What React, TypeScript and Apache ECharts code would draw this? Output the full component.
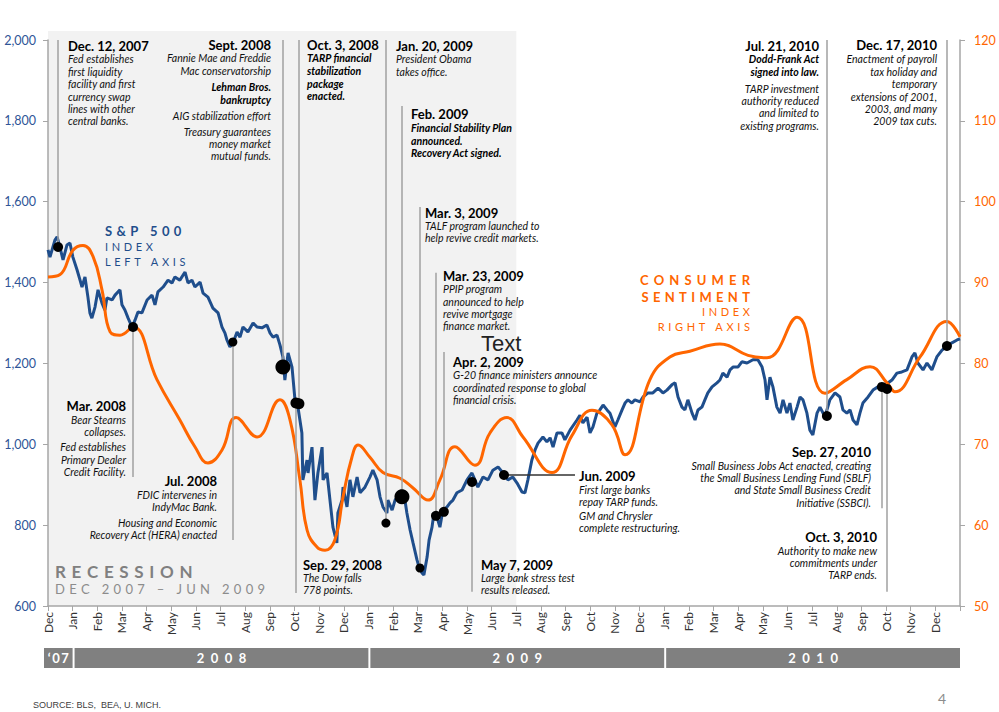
import React, { useEffect, useRef } from 'react';
import * as echarts from 'echarts';

// ---------- DATA ----------
// x = months since 1 Dec 2007 (0 = Dec 2007, 37 = Jan 2011)
const monthLabels = [
  'Dec', 'Jan', 'Feb', 'Mar', 'Apr', 'May', 'Jun', 'Jul', 'Aug', 'Sep', 'Oct', 'Nov', 'Dec',
  'Jan', 'Feb', 'Mar', 'Apr', 'May', 'Jun', 'Jul', 'Aug', 'Sep', 'Oct', 'Nov', 'Dec',
  'Jan', 'Feb', 'Mar', 'Apr', 'May', 'Jun', 'Jul', 'Aug', 'Sep', 'Oct', 'Nov', 'Dec',
];
const yearLabels = ['‘07', '2008', '2009', '2010'];
const yearStarts = [-0.16, 1.08, 13.08, 25.08];
const yearEnds = [1.0, 13.0, 25.0, 37.0];
const recessionStart = 0;
const recessionEnd = 19;

// S&P 500 index (left axis)
const spData: [number, number][] = [
  [0, 1481], [0.08, 1463], [0.28, 1505], [0.37, 1513], [0.49, 1486], [0.61, 1456], [0.77, 1493], [0.89, 1498],
  [1.01, 1463], [1.18, 1431], [1.3, 1406], [1.38, 1389], [1.5, 1414], [1.62, 1364], [1.7, 1325], [1.78, 1312],
  [1.91, 1340], [2.03, 1382], [2.19, 1349], [2.31, 1332], [2.39, 1362], [2.6, 1357], [2.72, 1369], [2.92, 1382],
  [3.0, 1345], [3.12, 1332], [3.25, 1312], [3.41, 1290], [3.53, 1307], [3.65, 1327], [3.81, 1325], [4.02, 1357],
  [4.22, 1369], [4.34, 1345], [4.46, 1377], [4.67, 1389], [4.87, 1406], [5.03, 1399], [5.15, 1414], [5.35, 1406],
  [5.56, 1426], [5.68, 1399], [5.84, 1406], [5.96, 1389], [6.17, 1401], [6.29, 1374], [6.49, 1364], [6.69, 1337],
  [6.9, 1325], [7.06, 1290], [7.18, 1275], [7.26, 1258], [7.38, 1241], [7.51, 1251], [7.67, 1278], [7.79, 1265],
  [7.91, 1290], [8.11, 1278], [8.32, 1300], [8.48, 1290], [8.68, 1288], [8.88, 1295], [9.01, 1275], [9.13, 1265],
  [9.29, 1270], [9.41, 1246], [9.53, 1216], [9.61, 1159], [9.74, 1226], [9.9, 1191], [10.02, 1110], [10.14, 1092],
  [10.3, 1028], [10.34, 912], [10.51, 961], [10.55, 929], [10.71, 993], [10.83, 862], [10.95, 929], [11.12, 993],
  [11.16, 912], [11.32, 929], [11.44, 862], [11.56, 795], [11.72, 756], [11.76, 830], [11.93, 862], [11.97, 894],
  [12.13, 845], [12.25, 912], [12.37, 870], [12.54, 919], [12.66, 880], [12.86, 894], [13.06, 919], [13.18, 936],
  [13.35, 912], [13.47, 870], [13.59, 845], [13.75, 830], [13.79, 862], [13.96, 837], [14.08, 862], [14.2, 870],
  [14.36, 887], [14.48, 862], [14.56, 830], [14.69, 788], [14.81, 756], [14.97, 714], [15.05, 697], [15.17, 682],
  [15.25, 677], [15.38, 721], [15.46, 763], [15.58, 795], [15.66, 830], [15.78, 820], [15.9, 795], [16.02, 837],
  [16.19, 845], [16.31, 855], [16.43, 862], [16.59, 880], [16.8, 887], [17.0, 912], [17.2, 929], [17.32, 912],
  [17.44, 894], [17.65, 919], [17.85, 912], [18.05, 936], [18.26, 944], [18.46, 929], [18.66, 912], [18.86, 919],
  [19.03, 904], [19.23, 882], [19.35, 880], [19.47, 912], [19.63, 961], [19.76, 986], [19.88, 1003], [20.08, 1018],
  [20.24, 1006], [20.37, 1016], [20.49, 993], [20.65, 1028], [20.85, 1028], [20.97, 1011], [21.18, 1035], [21.46, 1060],
  [21.58, 1072], [21.7, 1053], [21.87, 1067], [21.99, 1028], [22.11, 1043], [22.27, 1077], [22.39, 1085], [22.52, 1097],
  [22.68, 1085], [22.8, 1077], [23.0, 1043], [23.12, 1060], [23.29, 1085], [23.41, 1102], [23.53, 1110], [23.69, 1102],
  [23.81, 1110], [24.02, 1105], [24.14, 1117], [24.34, 1127], [24.54, 1127], [24.75, 1139], [24.95, 1127], [25.11, 1134],
  [25.31, 1147], [25.44, 1152], [25.56, 1117], [25.72, 1092], [25.84, 1085], [25.96, 1110], [26.13, 1077], [26.25, 1060],
  [26.37, 1085], [26.53, 1092], [26.65, 1110], [26.77, 1127], [26.94, 1142], [27.14, 1152], [27.26, 1159], [27.38, 1176],
  [27.55, 1166], [27.67, 1184], [27.79, 1191], [27.99, 1191], [28.15, 1204], [28.36, 1201], [28.6, 1209], [28.8, 1209],
  [28.97, 1191], [29.09, 1159], [29.17, 1110], [29.29, 1166], [29.41, 1142], [29.57, 1092], [29.7, 1077], [29.82, 1110],
  [29.98, 1077], [30.1, 1102], [30.22, 1060], [30.39, 1092], [30.51, 1117], [30.63, 1110], [30.79, 1077], [30.91, 1035],
  [31.03, 1023], [31.2, 1077], [31.32, 1092], [31.52, 1068], [31.72, 1110], [31.93, 1127], [32.13, 1117], [32.25, 1085],
  [32.41, 1077], [32.54, 1085], [32.66, 1060], [32.82, 1048], [32.94, 1077], [33.06, 1102], [33.27, 1117], [33.47, 1134],
  [33.67, 1142], [33.91, 1144], [34.24, 1159], [34.44, 1176], [34.64, 1179], [34.85, 1184], [35.05, 1216], [35.17, 1226],
  [35.29, 1201], [35.5, 1184], [35.66, 1201], [35.86, 1184], [36.06, 1216], [36.27, 1233], [36.47, 1243], [36.67, 1251],
  [36.88, 1258], [37.0, 1261],
];

// Consumer sentiment index (right axis)
const sentimentData: [number, number][] = [
  [0, 90.7], [0.49, 91.0], [1.01, 94.0], [1.42, 94.6], [1.83, 93.2], [2.19, 89.1], [2.52, 83.9], [2.92, 83.5],
  [3.45, 84.5], [4.42, 78.0], [5.35, 73.0], [5.96, 69.7], [6.49, 67.7], [7.06, 69.3], [7.63, 73.3], [8.48, 70.9],
  [9.41, 75.5], [9.82, 73.0], [10.22, 65.6], [10.51, 59.4], [10.91, 57.3], [11.24, 56.9], [11.64, 58.2], [11.97, 63.5],
  [12.33, 68.4], [12.58, 69.9], [13.06, 68.4], [13.59, 66.5], [14.28, 65.8], [14.81, 64.6], [15.42, 63.1], [15.9, 65.6],
  [16.51, 69.7], [17.32, 67.4], [17.93, 71.4], [18.62, 73.3], [19.27, 70.9], [20.45, 66.5], [21.26, 71.1], [22.07, 74.2],
  [22.88, 72.4], [23.41, 68.7], [24.42, 78.0], [25.23, 80.8], [26.04, 81.5], [27.26, 82.4], [28.4, 81.0], [29.17, 80.7],
  [30.39, 85.7], [31.52, 76.3], [32.41, 78.0], [33.35, 79.6], [34.04, 77.6], [34.36, 76.5], [35.38, 80.8], [36.47, 85.2],
  [37.0, 83.3],
];

// Event points on the S&P line
const eventDots: [number, number][] = [
  [0.41, 1488], [3.45, 1290], [7.5, 1253], [9.53, 1191], [10.06, 1102], [10.18, 1100], [13.71, 805], [14.36, 870],
  [15.09, 694], [15.74, 823], [16.06, 833], [17.2, 907], [18.5, 924], [31.6, 1070], [33.83, 1142], [34.04, 1137],
  [36.47, 1243],
];
// Leader lines: [month, from value, to value]
const eventLines: [number, number, number][] = [
  [0.41, 2000, 1488], [3.45, 1290, 919], [7.5, 1253, 763], [9.53, 2000, 1191], [10.06, 1102, 632], [10.18, 2000, 1100],
  [13.71, 2000, 805], [14.36, 1837, 870], [15.09, 1587, 694], [15.74, 1424, 823], [16.06, 1228, 833], [17.2, 907, 635],
  [31.6, 2000, 1070], [33.83, 1142, 842], [34.04, 1137, 635], [36.47, 2000, 1243],
];
const junLine: [number, number, number] = [18.5, 21.38, 924];

// ---------- STYLE / LAYOUT ----------
const FONT = 'Lato, "Noto Sans", sans-serif';
const BLUE = '#1f4e8c';
const ORANGE = '#ff6600';
const dotSizes = [10, 10, 9, 15, 11, 11, 9, 15, 9, 10, 10, 10, 10, 10, 10, 10, 10];

type Row = [number, 'h' | 'i' | 'bi', string];
interface Note { x: number; align: 'left' | 'right'; rows: Row[] }

const notes: Note[] = [
  { x: 68, align: 'left', rows: [[46, 'h', 'Dec. 12, 2007'], [59, 'i', 'Fed establishes'], [72, 'i', 'first liquidity'], [84, 'i', 'facility and first'], [97, 'i', 'currency swap'], [109, 'i', 'lines with other'], [121, 'i', 'central banks.']] },
  { x: 271, align: 'right', rows: [[45, 'h', 'Sept. 2008'], [58, 'i', 'Fannie Mae and Freddie'], [71, 'i', 'Mac conservatorship'], [87, 'bi', 'Lehman Bros.'], [100, 'bi', 'bankruptcy'], [116, 'i', 'AIG stabilization effort'], [132, 'i', 'Treasury guarantees'], [144, 'i', 'money market'], [156, 'i', 'mutual funds.']] },
  { x: 307, align: 'left', rows: [[45, 'h', 'Oct. 3, 2008'], [58, 'bi', 'TARP financial'], [71, 'bi', 'stabilization'], [84, 'bi', 'package'], [96, 'bi', 'enacted.']] },
  { x: 396, align: 'left', rows: [[46, 'h', 'Jan. 20, 2009'], [59, 'i', 'President Obama'], [72, 'i', 'takes office.']] },
  { x: 411, align: 'left', rows: [[114, 'h', 'Feb. 2009'], [128, 'bi', 'Financial Stability Plan'], [141, 'bi', 'announced.'], [153, 'bi', 'Recovery Act signed.']] },
  { x: 425, align: 'left', rows: [[213, 'h', 'Mar. 3, 2009'], [226, 'i', 'TALF program launched to'], [238, 'i', 'help revive credit markets.']] },
  { x: 443, align: 'left', rows: [[276, 'h', 'Mar. 23, 2009'], [289, 'i', 'PPIP program'], [302, 'i', 'announced to help'], [314, 'i', 'revive mortgage'], [326, 'i', 'finance market.']] },
  { x: 453, align: 'left', rows: [[362, 'h', 'Apr. 2, 2009'], [375, 'i', 'G-20 finance ministers announce'], [388, 'i', 'coordinated response to global'], [400, 'i', 'financial crisis.']] },
  { x: 579, align: 'left', rows: [[476, 'h', 'Jun. 2009'], [490, 'i', 'First large banks'], [502, 'i', 'repay TARP funds.'], [516, 'i', 'GM and Chrysler'], [528, 'i', 'complete restructuring.']] },
  { x: 126, align: 'right', rows: [[406, 'h', 'Mar. 2008'], [420, 'i', 'Bear Stearns'], [432, 'i', 'collapses.'], [447, 'i', 'Fed establishes'], [460, 'i', 'Primary Dealer'], [472, 'i', 'Credit Facility.']] },
  { x: 217, align: 'right', rows: [[481, 'h', 'Jul. 2008'], [495, 'i', 'FDIC intervenes in'], [507, 'i', 'IndyMac Bank.'], [523, 'i', 'Housing and Economic'], [535, 'i', 'Recovery Act (HERA) enacted']] },
  { x: 303, align: 'left', rows: [[565, 'h', 'Sep. 29, 2008'], [578, 'i', 'The Dow falls'], [590, 'i', '778 points.']] },
  { x: 481, align: 'left', rows: [[565, 'h', 'May 7, 2009'], [578, 'i', 'Large bank stress test'], [590, 'i', 'results released.']] },
  { x: 819, align: 'right', rows: [[46, 'h', 'Jul. 21, 2010'], [59, 'bi', 'Dodd-Frank Act'], [72, 'bi', 'signed into law.'], [89, 'i', 'TARP investment'], [101, 'i', 'authority reduced'], [113, 'i', 'and limited to'], [126, 'i', 'existing programs.']] },
  { x: 937, align: 'right', rows: [[45, 'h', 'Dec. 17, 2010'], [59, 'i', 'Enactment of payroll'], [72, 'i', 'tax holiday and'], [84, 'i', 'temporary'], [97, 'i', 'extensions of 2001,'], [109, 'i', '2003, and many'], [121, 'i', '2009 tax cuts.']] },
  { x: 871, align: 'right', rows: [[452, 'h', 'Sep. 27, 2010'], [466, 'i', 'Small Business Jobs Act enacted, creating'], [478, 'i', 'the Small Business Lending Fund (SBLF)'], [490, 'i', 'and State Small Business Credit'], [503, 'i', 'Initiative (SSBCI).']] },
  { x: 877, align: 'right', rows: [[537, 'h', 'Oct. 3, 2010'], [551, 'i', 'Authority to make new'], [563, 'i', 'commitments under'], [575, 'i', 'TARP ends.']] },
];

const spaced = (s: string, sep = '\u2004') => Array.from(s).join(sep);

function rowStyle(kind: 'h' | 'i' | 'bi') {
  if (kind === 'h') return { fontSize: 13, fontWeight: 'bold', fontStyle: 'normal', fill: '#000' };
  if (kind === 'bi') return { fontSize: 10.5, fontWeight: 'bold', fontStyle: 'italic', fill: '#000' };
  return { fontSize: 10.5, fontWeight: 'normal', fontStyle: 'italic', fill: '#111' };
}

function txt(x: number, y: number, text: string, s: any) {
  return {
    type: 'text', x, y, silent: true, z: 20,
    style: { text, fontFamily: FONT, verticalAlign: 'middle', align: 'left', ...s },
  };
}

export default function App() {
  const ref = useRef<HTMLDivElement>(null);
  useEffect(() => {
    if (!ref.current) return;
    const chart = echarts.init(ref.current, undefined, { renderer: 'svg' });

    const graphics: any[] = [];
    notes.forEach((n) => {
      n.rows.forEach(([y, k, t]) => graphics.push(txt(n.x, y, t, { ...rowStyle(k), align: n.align })));
    });
    graphics.push(txt(481, 343, 'Text', { fontSize: 22, fontFamily: '"Liberation Sans", Arial, sans-serif', fill: '#222' }));
    // legends
    graphics.push(txt(105, 231, spaced('S&P 500'), { fontSize: 13, fontWeight: 'bold', fill: BLUE }));
    graphics.push(txt(105, 246, spaced('INDEX'), { fontSize: 11, fill: BLUE }));
    graphics.push(txt(105, 261, spaced('LEFT AXIS'), { fontSize: 11, fill: BLUE }));
    graphics.push(txt(750, 280, spaced('CONSUMER', '\u2004\u200a'), { fontSize: 13, fontWeight: 'bold', fill: ORANGE, align: 'right' }));
    graphics.push(txt(750, 297, spaced('SENTIMENT', '\u2004'), { fontSize: 13, fontWeight: 'bold', fill: ORANGE, align: 'right' }));
    graphics.push(txt(750, 311, spaced('INDEX'), { fontSize: 11, fill: ORANGE, align: 'right' }));
    graphics.push(txt(750, 326, spaced('RIGHT AXIS'), { fontSize: 11, fill: ORANGE, align: 'right' }));
    graphics.push(txt(55, 571, spaced('RECESSION'), { fontSize: 17, fontWeight: 'bold', fill: '#808080' }));
    graphics.push(txt(55, 589, spaced('DEC 2007 – JUN 2009'), { fontSize: 13, fill: '#8c8c8c' }));
    graphics.push(txt(33, 705, 'SOURCE: BLS,  BEA, U. MICH.', { fontSize: 9, fill: '#404040', fontFamily: '"Liberation Sans Narrow", "Liberation Sans", sans-serif' }));
    graphics.push(txt(938, 698, '4', { fontSize: 14, fill: '#8c8c8c' }));

    const markLines: any[] = eventLines.map(([m, a, b]) => [{ coord: [m, a] }, { coord: [m, b] }]);
    markLines.push([
      { coord: [junLine[0], junLine[2]], lineStyle: { color: '#333', width: 1.5 } },
      { coord: [junLine[1], junLine[2]] },
    ]);

    const option: any = {
      animation: false,
      backgroundColor: '#fff',
      textStyle: { fontFamily: FONT },
      grid: [
        { left: 48, right: 39, top: 40, bottom: 106 },
        { left: 44, right: 39, top: 648, height: 20 },
      ],
      xAxis: [
        {
          type: 'value', gridIndex: 0, min: 0, max: 37, interval: 1,
          axisLine: { show: true, lineStyle: { color: '#a6a6a6', width: 1.5 } },
          axisTick: { show: true, length: 5, lineStyle: { color: '#a6a6a6' } },
          splitLine: { show: false },
          axisLabel: {
            rotate: 90, margin: 6, fontSize: 12, color: '#333', fontFamily: FONT,
            formatter: (v: number) => monthLabels[v] ?? '',
          },
        },
        { type: 'value', gridIndex: 1, min: -0.16, max: 37, show: false },
      ],
      yAxis: [
        {
          type: 'value', gridIndex: 0, min: 600, max: 2000, interval: 200, position: 'left',
          axisLine: { show: true, lineStyle: { color: '#a6a6a6', width: 1.5 } },
          axisTick: { show: true, length: 5, lineStyle: { color: '#a6a6a6' } },
          splitLine: { show: false },
          axisLabel: {
            margin: 12, fontSize: 12.5, color: '#2f5597', fontFamily: FONT,
            formatter: (v: number) => v.toLocaleString('en-US'),
          },
        },
        {
          type: 'value', gridIndex: 0, min: 50, max: 120, interval: 10, position: 'right',
          axisLine: { show: true, lineStyle: { color: '#a6a6a6', width: 1.5 } },
          axisTick: { show: true, length: 5, lineStyle: { color: '#a6a6a6' } },
          splitLine: { show: false },
          axisLabel: { margin: 14, fontSize: 12.5, color: ORANGE, fontFamily: FONT },
        },
        { type: 'value', gridIndex: 1, min: 0, max: 1, show: false },
      ],
      graphic: graphics,
      series: [
        {
          type: 'line', xAxisIndex: 0, yAxisIndex: 0, data: [[0, 600]], symbol: 'none', silent: true,
          lineStyle: { opacity: 0 }, z: 1,
          markLine: {
            silent: true, symbol: ['none', 'none'], label: { show: false },
            lineStyle: { color: '#a0a0a0', width: 1.5, type: 'solid' },
            data: markLines,
          },
        },
        {
          name: 'S&P 500', type: 'line', xAxisIndex: 0, yAxisIndex: 0, data: spData, symbol: 'none',
          lineStyle: { color: BLUE, width: 3 }, z: 3,
        },
        {
          name: 'Consumer Sentiment', type: 'line', xAxisIndex: 0, yAxisIndex: 1, data: sentimentData,
          symbol: 'none', smooth: 0.45, lineStyle: { color: ORANGE, width: 3 }, z: 4,
        },
        {
          type: 'scatter', xAxisIndex: 0, yAxisIndex: 0, z: 6,
          data: eventDots.map((d, i) => ({ value: d, symbolSize: dotSizes[i] })),
          itemStyle: { color: '#000', opacity: 1 },
        },
        {
          type: 'line', xAxisIndex: 1, yAxisIndex: 2, data: [[0, 0]], symbol: 'none', silent: true,
          lineStyle: { opacity: 0 },
          markArea: {
            silent: true, itemStyle: { color: '#808080' },
            label: { show: true, position: 'inside', color: '#fff', fontWeight: 'bold', fontSize: 13, fontFamily: FONT },
            data: yearLabels.map((l, i) => [
              { xAxis: yearStarts[i], name: i === 0 ? spaced(l, '\u2009') : spaced(l, '\u2002') },
              { xAxis: yearEnds[i] },
            ]),
          },
        },
      ],
    };
    chart.setOption(option);

    // Recession shading, placed through the chart's own scales, reaching a little above the plot
    const pA = chart.convertToPixel({ xAxisIndex: 0, yAxisIndex: 0 }, [recessionStart, 600]) as number[];
    const pB = chart.convertToPixel({ xAxisIndex: 0, yAxisIndex: 0 }, [recessionEnd, 2000]) as number[];
    chart.setOption({
      graphic: [
        ...graphics,
        {
          type: 'rect', silent: true, z: -10,
          shape: { x: pA[0], y: pB[1] - 9, width: pB[0] - pA[0], height: pA[1] - pB[1] + 9 },
          style: { fill: '#f2f2f2' },
        },
      ],
    });
    return () => chart.dispose();
  }, []);
  return <div ref={ref} style={{ position: 'fixed', left: 0, top: 0, width: 999, height: 712 }} />;
}
